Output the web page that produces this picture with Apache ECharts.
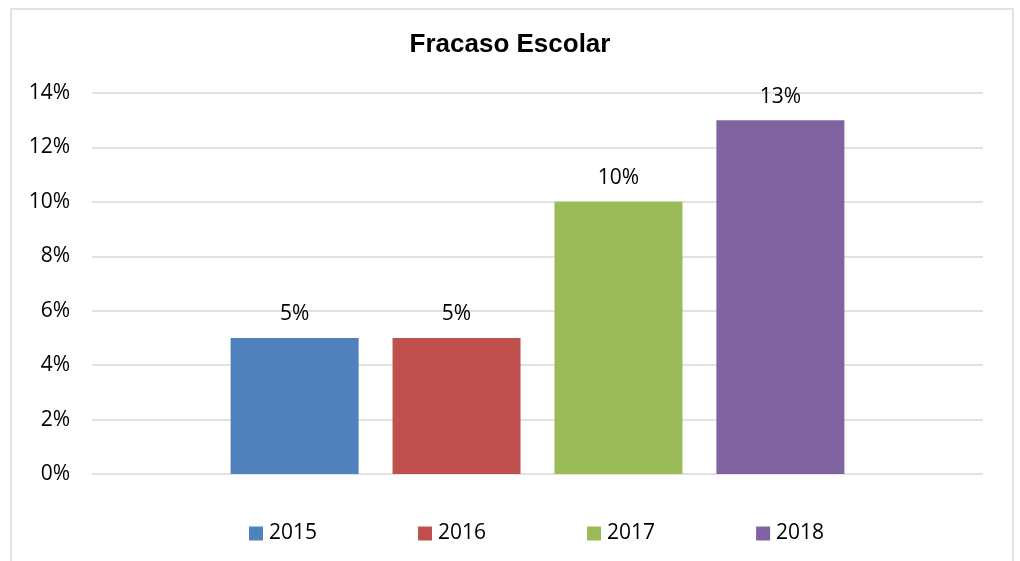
<!DOCTYPE html>
<html>
<head>
<meta charset="utf-8">
<script src="https://cdn.jsdelivr.net/npm/echarts@6/dist/echarts.min.js"></script>
<style>
  html, body { margin: 0; padding: 0; background: #fff; }
  #chart { width: 1020px; height: 561px; }
</style>
</head>
<body>
<div id="chart"></div>
<script>
var years = ['2015', '2016', '2017', '2018'];
var values = [5, 5, 10, 13];
var colors = ['#4f81bd', '#c0504d', '#9bbb59', '#8064a2'];
var yTicks = [0, 2, 4, 6, 8, 10, 12, 14];

var chart = echarts.init(document.getElementById('chart'));

var series = years.map(function(y, i) {
  return {
    name: y,
    type: 'bar',
    data: [values[i]],
    barWidth: 128,
    barGap: '26.5%',
    itemStyle: { color: colors[i] },
    label: {
      show: true,
      position: 'top',
      distance: 13,
      formatter: '{c}%',
      color: '#000',
      fontSize: 21,
      fontFamily: 'Open Sans'
    }
  };
});

chart.setOption({
  animation: false,
  backgroundColor: '#fff',
  graphic: [{
    type: 'rect',
    shape: { x: 11, y: 9, width: 1002, height: 570 },
    style: { fill: 'none', stroke: '#d9d9d9', lineWidth: 1.5 },
    silent: true
  }],
  title: {
    text: 'Fracaso Escolar',
    left: 'center',
    top: 27,
    textStyle: { fontFamily: 'Liberation Sans', fontWeight: 'bold', fontSize: 26, color: '#000' }
  },
  grid: { left: 92, right: 37, top: 93, bottom: 87 },
  xAxis: {
    type: 'category',
    data: [''],
    axisLine: { show: false },
    axisTick: { show: false },
    axisLabel: { show: false }
  },
  yAxis: {
    type: 'value',
    min: yTicks[0],
    max: yTicks[yTicks.length - 1],
    interval: 2,
    axisLine: { show: false },
    axisTick: { show: false },
    axisLabel: {
      formatter: '{value}%',
      margin: 22,
      color: '#000',
      fontSize: 21,
      fontFamily: 'Open Sans'
    },
    splitLine: { lineStyle: { color: '#d9d9d9', width: 1.5 } }
  },
  legend: {
    top: 518,
    left: 244,
    itemWidth: 14,
    itemHeight: 14,
    itemGap: 101,
    icon: 'rect',
    textStyle: { color: '#000', fontSize: 21, fontFamily: 'Open Sans', padding: [0, 0, 0, 1] },
    data: years
  },
  series: series
});
</script>
</body>
</html>
